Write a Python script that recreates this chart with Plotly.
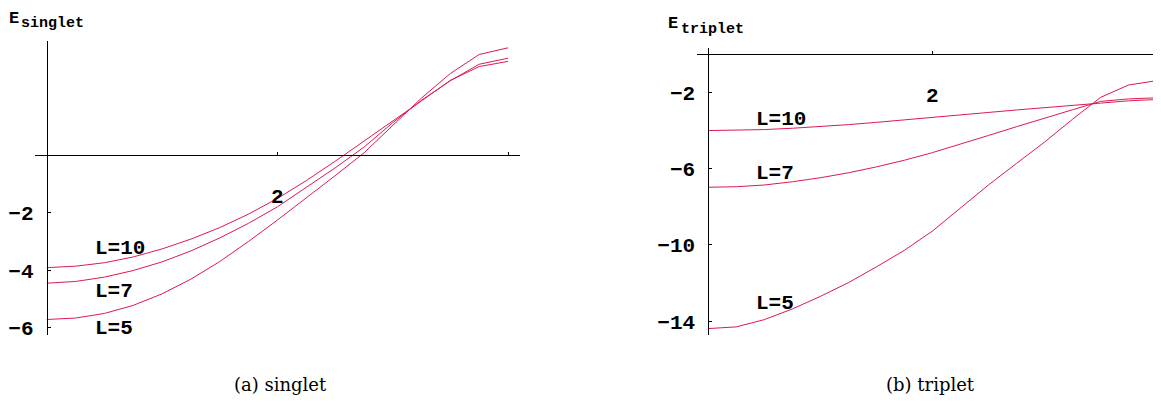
import plotly.graph_objects as go

# dados (x de 0 a 4, passo 0.25)
x_vals = [0, 0.25, 0.5, 0.75, 1, 1.25, 1.5, 1.75, 2, 2.25, 2.5, 2.75, 3, 3.25, 3.5, 3.75, 4]

# singlet
sing_L10 = [-3.91, -3.86, -3.74, -3.54, -3.26, -2.92, -2.52, -2.05, -1.51, -0.89, -0.22, 0.47, 1.17, 1.88, 2.59, 3.07, 3.25]
sing_L7 = [-4.45, -4.39, -4.24, -4.01, -3.71, -3.33, -2.88, -2.37, -1.80, -1.12, -0.45, 0.27, 1.12, 1.90, 2.58, 3.15, 3.36]
sing_L5 = [-5.71, -5.66, -5.50, -5.22, -4.82, -4.31, -3.70, -3.00, -2.26, -1.50, -0.72, 0.07, 1.02, 1.98, 2.83, 3.49, 3.72]

# triplet
trip_L10 = [-3.99, -3.98, -3.94, -3.87, -3.79, -3.68, -3.56, -3.44, -3.32, -3.18, -3.04, -2.91, -2.78, -2.66, -2.55, -2.43, -2.36]
trip_L7 = [-6.97, -6.94, -6.85, -6.68, -6.47, -6.21, -5.90, -5.55, -5.15, -4.72, -4.25, -3.79, -3.33, -2.90, -2.46, -2.33, -2.27]
trip_L5 = [-14.39, -14.30, -13.92, -13.36, -12.70, -11.98, -11.15, -10.28, -9.27, -8.08, -6.85, -5.72, -4.60, -3.40, -2.25, -1.60, -1.37]

rotulos = ['L=10', 'L=7', 'L=5']
sing_yticks = [-2, -4, -6]
trip_yticks = [-2, -6, -10, -14]
x_ticks = [2, 4]
x_ticktext = ['2', '']

COR = '#dc1a50'
MONO = 'Liberation Mono, Courier New, monospace'
W, H = 1161, 403
OFF = 8  # margem padrao do <body> da pagina


def px(x):  # pixel da tela -> fracao do papel
    return (x - OFF) / W


def py(y):
    return 1 - (y - OFF) / H


fig = go.Figure()

for serie in [sing_L10, sing_L7, sing_L5]:
    fig.add_trace(go.Scatter(x=x_vals, y=serie, mode='lines', line=dict(color=COR, width=1),
                             xaxis='x', yaxis='y', showlegend=False, hoverinfo='skip'))

for serie in [trip_L10, trip_L7, trip_L5]:
    fig.add_trace(go.Scatter(x=x_vals, y=serie, mode='lines', line=dict(color=COR, width=1),
                             xaxis='x2', yaxis='y2', showlegend=False, hoverinfo='skip'))

fonte_tick = dict(family=MONO, size=21, color='black', weight='bold')
eixo = dict(showline=True, linecolor='black', linewidth=1, ticks='inside', ticklen=3,
            tickcolor='black', showgrid=False, zeroline=False, tickfont=fonte_tick,
            anchor='free', fixedrange=True)

fig.update_layout(
    width=W, height=H,
    margin=dict(l=0, r=0, t=0, b=0),
    plot_bgcolor='white', paper_bgcolor='white',
    xaxis=dict(eixo, domain=[px(34.6), px(519.6)], range=[-0.105, 4.1], position=py(157.2),
               tickvals=x_ticks, ticktext=x_ticktext, ticklabelstandoff=22),
    yaxis=dict(eixo, domain=[py(340), py(41.7)], range=[-6.25, 3.95], position=px(46.7),
               tickvals=sing_yticks, ticktext=['\u2212' + str(-v) for v in sing_yticks], ticklabelstandoff=9),
    xaxis2=dict(eixo, domain=[px(697.3), px(1161)], range=[-0.098, 4.04], position=py(55),
                tickvals=x_ticks, ticktext=x_ticktext, ticklabelstandoff=21),
    yaxis2=dict(eixo, domain=[py(340), py(48.3)], range=[-14.73, 0.36], position=px(708.3),
                tickvals=trip_yticks, ticktext=['\u2212' + str(-v) for v in trip_yticks], ticklabelstandoff=9),
)

# rotulos das curvas
pos_sing = [(0.40, -3.23), (0.40, -4.75), (0.40, -6.02)]
pos_trip = [(0.41, -3.39), (0.41, -6.24), (0.41, -13.05)]
for txt, (xx, yy) in zip(rotulos, pos_sing):
    fig.add_annotation(x=xx, y=yy, xref='x', yref='y', text='<b>' + txt + '</b>', showarrow=False,
                       xanchor='left', yanchor='middle', font=dict(family=MONO, size=21, color='black'))
for txt, (xx, yy) in zip(rotulos, pos_trip):
    fig.add_annotation(x=xx, y=yy, xref='x2', yref='y2', text='<b>' + txt + '</b>', showarrow=False,
                       xanchor='left', yanchor='middle', font=dict(family=MONO, size=21, color='black'))


# titulos dos eixos y (E com subscrito)
def titulo(x_e, y_e, sub, x_sub, y_sub, ancora='middle'):
    fig.add_annotation(x=px(x_e), y=py(y_e), xref='paper', yref='paper', text='<b>E</b>',
                       showarrow=False, xanchor='left', yanchor=ancora, borderpad=0,
                       font=dict(family=MONO, size=17, color='black'))
    fig.add_annotation(x=px(x_sub), y=py(y_sub), xref='paper', yref='paper', text='<b>' + sub + '</b>',
                       showarrow=False, xanchor='left', yanchor='middle', borderpad=0,
                       font=dict(family=MONO, size=15, color='black'))


titulo(8, 8, 'singlet', 20, 24, ancora='top')  # encostado no topo para nao cortar
titulo(667, 23.5, 'triplet', 680, 30)

# legendas de baixo
fig.add_annotation(x=px(280), y=py(390), xref='paper', yref='paper', text='(a) singlet', showarrow=False,
                   xanchor='center', yanchor='middle', font=dict(family='DejaVu Serif', size=18, color='black'))
fig.add_annotation(x=px(930), y=py(390), xref='paper', yref='paper', text='(b) triplet', showarrow=False,
                   xanchor='center', yanchor='middle', font=dict(family='DejaVu Serif', size=18, color='black'))

fig.write_html('out.html')
